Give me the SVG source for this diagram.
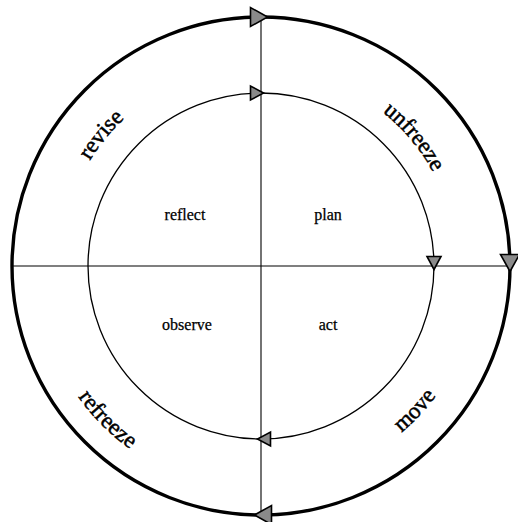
<svg xmlns="http://www.w3.org/2000/svg" xmlns:xlink="http://www.w3.org/1999/xlink" width="518" height="522" viewBox="0 0 518 522">
  <style>
    .ring-outer { fill: none; stroke: #000; stroke-width: 3.4; }
    .ring-inner { fill: none; stroke: #000; stroke-width: 1.3; }
    .axis { stroke: #000; stroke-width: 1.1; }
    .arrow { fill: #8a8a8a; stroke: #000; stroke-width: 1.6; stroke-linejoin: miter; }
    .lbl { font-family: "Liberation Serif", "Times New Roman", serif; font-size: 16px; fill: #000; stroke: #000; stroke-width: 0.25; text-anchor: middle; }
    .ring-lbl { font-family: "Liberation Serif", "Times New Roman", serif; font-size: 23px; fill: #000; stroke: #000; stroke-width: 0.5; text-anchor: middle; }
  </style>
  <defs>
    <path id="arrowBig" d="M8.5,0 L-8.5,-9.5 L-8.5,9.5 Z"/>
    <path id="arrowSmall" d="M6.5,0 L-6.5,-7 L-6.5,7 Z"/>
    <path id="pRevise" d="M 60,266 A 201,201 0 0 1 462,266"/>
    <path id="pUnfreeze" d="M 65,266 A 196,196 0 0 1 457,266"/>
    <path id="pRefreeze" d="M 36,266 A 225,225 0 0 0 486,266"/>
    <path id="pMove" d="M 43,266 A 218,218 0 0 0 479,266"/>
  </defs>

  <g id="connectors">
    <circle class="ring-outer" cx="261" cy="266" r="249"/>
    <circle class="ring-inner" cx="261" cy="266" r="173"/>
    <line class="axis" x1="12" y1="266" x2="510" y2="266"/>
    <line class="axis" x1="261" y1="17" x2="261" y2="515"/>
    <use href="#arrowBig" class="arrow" transform="translate(259,17)"/>
    <use href="#arrowBig" class="arrow" transform="translate(510,263) rotate(90)"/>
    <use href="#arrowBig" class="arrow" transform="translate(263,515) rotate(180)"/>
    <use href="#arrowSmall" class="arrow" transform="translate(257,93)"/>
    <use href="#arrowSmall" class="arrow" transform="translate(434,263) rotate(90)"/>
    <use href="#arrowSmall" class="arrow" transform="translate(264,439) rotate(180)"/>
  </g>

  <g id="reflect"><text class="lbl" x="185" y="220">reflect</text></g>
  <g id="plan"><text class="lbl" x="328" y="220">plan</text></g>
  <g id="observe"><text class="lbl" x="187" y="330">observe</text></g>
  <g id="act"><text class="lbl" x="328" y="330">act</text></g>

  <g id="revise"><text class="ring-lbl"><textPath href="#pRevise" startOffset="21.9%">revise</textPath></text></g>
  <g id="unfreeze"><text class="ring-lbl"><textPath href="#pUnfreeze" startOffset="77.7%">unfreeze</textPath></text></g>
  <g id="refreeze"><text class="ring-lbl"><textPath href="#pRefreeze" startOffset="25%">refreeze</textPath></text></g>
  <g id="move"><text class="ring-lbl"><textPath href="#pMove" startOffset="76%">move</textPath></text></g>
</svg>
